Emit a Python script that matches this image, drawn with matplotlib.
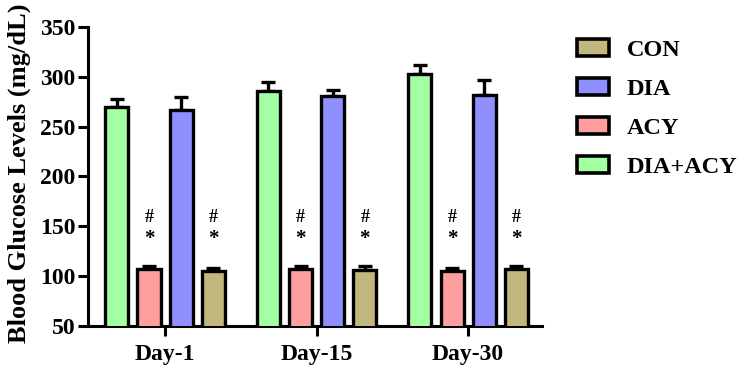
import matplotlib
matplotlib.use("Agg")
import matplotlib.pyplot as plt
import numpy as np
from matplotlib.patches import Patch

days = ["Day-1", "Day-15", "Day-30"]
bar_order = ["DIA+ACY", "ACY", "DIA", "CON"]
means = {
    "DIA+ACY": [270, 286, 303],
    "ACY": [107, 107, 105],
    "DIA": [267, 281, 282],
    "CON": [105, 106, 107],
}
errs = {
    "DIA+ACY": [8, 9, 9],
    "ACY": [3, 3, 3],
    "DIA": [13, 6, 15],
    "CON": [3, 4, 3],
}
colors = {
    "CON": "#C2B87E",
    "DIA": "#8F8FFF",
    "ACY": "#FF9E9E",
    "DIA+ACY": "#A2FFA2",
}
legend_order = ["CON", "DIA", "ACY", "DIA+ACY"]
marked = ["ACY", "CON"]
yticks = [50, 100, 150, 200, 250, 300, 350]

plt.rcParams["font.family"] = ["Liberation Serif", "DejaVu Serif"]
plt.rcParams["font.weight"] = "bold"

fig = plt.figure(figsize=(7.44, 3.69), dpi=100)
ax = fig.add_axes([0.118, 0.1165, 0.611, 0.8105])

x = np.arange(len(days))
pitch = 0.212
width = 0.152
for i, g in enumerate(bar_order):
    pos = x + (i - 1.5) * pitch
    ax.bar(pos, means[g], width=width, bottom=0, color=colors[g], edgecolor="black",
           linewidth=2.4, zorder=3)
    ax.errorbar(pos, means[g], yerr=[np.zeros(len(days)), errs[g]], fmt="none",
                ecolor="black", elinewidth=2.4, capsize=4.7, capthick=2.4, zorder=2)
    if g in marked:
        for p in pos:
            ax.text(p, 159, "#", ha="center", va="center", fontsize=13, fontweight="bold")
            ax.text(p, 137, "*", ha="center", va="center", fontsize=15, fontweight="bold")

ax.set_ylim(50, 350)
ax.set_xlim(-0.51, 2.49)
ax.set_yticks(yticks)
ax.set_xticks(x)
ax.set_xticklabels(days, fontsize=17, fontweight="bold")
ax.tick_params(axis="y", labelsize=17, width=2.2, length=7, direction="out", pad=2)
ax.tick_params(axis="x", width=2.2, length=7, direction="out", pad=6)
for lab in ax.get_yticklabels():
    lab.set_fontweight("bold")
for s in ["top", "right"]:
    ax.spines[s].set_visible(False)
for s in ["left", "bottom"]:
    ax.spines[s].set_linewidth(2.2)
ax.set_ylabel("Blood Glucose Levels (mg/dL)", fontsize=19, fontweight="bold", labelpad=3)
ax.yaxis.set_label_coords(-0.126, 0.51)

handles = [Patch(facecolor=colors[g], edgecolor="black", linewidth=2.6, joinstyle="round",
                 label=g) for g in legend_order]
fig.legend(handles=handles, loc="upper left", bbox_to_anchor=(577 / 744, 0.893),
           frameon=False, borderpad=0, borderaxespad=0, handlelength=1.3, handleheight=0.7,
           labelspacing=0.69, handletextpad=0.75,
           prop={"weight": "bold", "size": 17.5})

fig.savefig("out.png", dpi=100)
